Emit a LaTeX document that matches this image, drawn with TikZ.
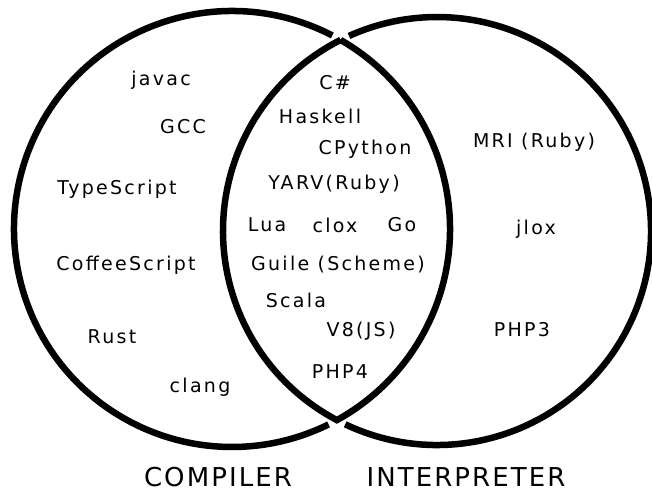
\documentclass[tikz,border=0pt]{standalone}
\usepackage{fontspec}
\setmainfont{DejaVu Sans}

\begin{document}
\begin{tikzpicture}[x=1pt,y=1pt]

\tikzset{venn/.style={line width=6.5pt, line join=miter},
  lang/.style={
    font=\fontsize{19}{19}\selectfont\addfontfeatures{LetterSpace=12},
    inner sep=0pt
  },
  side/.style={
    font=\fontsize{26}{26}\selectfont\addfontfeatures{LetterSpace=8},
    inner sep=0pt
  }
}

\useasboundingbox (0,0) rectangle (652,493);

\draw[venn] (232,264) ++(62.6:218) arc[start angle=62.6, end angle=296.3, radius=218];
\draw[venn] (437,262) ++(-115.4:214) arc[start angle=-115.4, end angle=114.3, radius=214];
\draw[venn] (232,264) ++(60.13:218) arc[start angle=60.13, end angle=-61.24, radius=218]
  arc[start angle=242.1, end angle=116.77, radius=214] -- cycle;

\node[lang] (javac) at (161,413) {javac};
\node[lang] (gcc) at (183,366) {GCC};
\node[lang] (ts) at (117,304) {TypeScript};
\node[lang] (coffee) at (126,228) {CoffeeScript};
\node[lang] (rust) at (112,156) {Rust};
\node[lang] (clang) at (200,106) {clang};

\node[lang] (csharp) at (335,410) {C\#};
\node[lang] (haskell) at (320,377) {Haskell};
\node[lang] (cpython) at (365,344) {CPython};
\node[lang] (yarv) at (334,309) {YARV(Ruby)};
\node[lang] (lua) at (267,268) {Lua};
\node[lang] (clox) at (335,268) {clox};
\node[lang] (go) at (402,268) {Go};
\node[lang] (guile) at (338,228) {Guile (Scheme)};
\node[lang] (scala) at (296,193) {Scala};
\node[lang] (veight) at (361,162) {V8(JS)};
\node[lang] (phpfour) at (340,121) {PHP4};

\node[lang] (mri) at (534,351) {MRI (Ruby)};
\node[lang] (jlox) at (536,264) {jlox};
\node[lang] (phpthree) at (522,163) {PHP3};

\node[side] (compiler) at (218,16) {COMPILER};
\node[side] (interpreter) at (466,16) {INTERPRETER};

\end{tikzpicture}
\end{document}
